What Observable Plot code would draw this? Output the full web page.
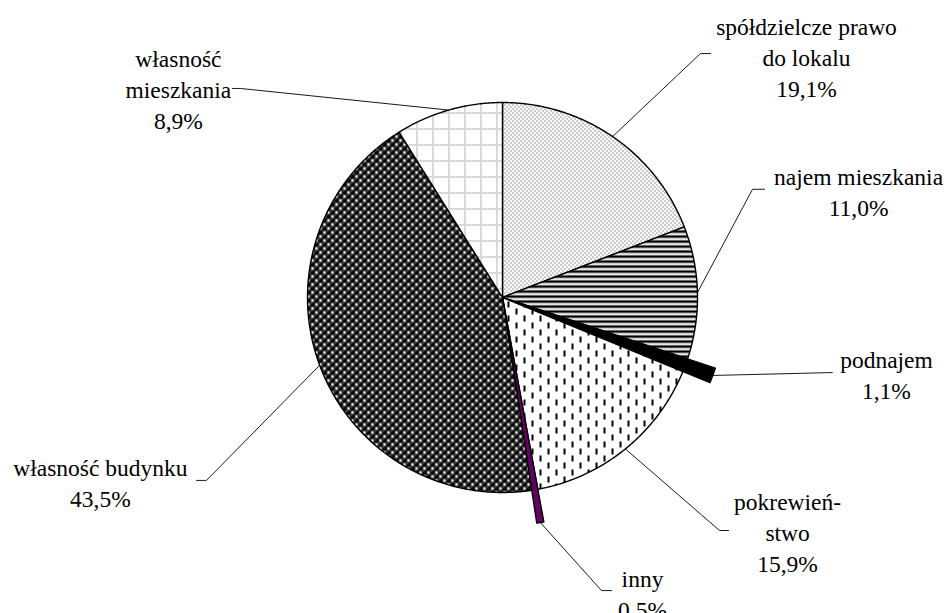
<!DOCTYPE html>
<html><head><meta charset="utf-8">
<script src="https://cdn.jsdelivr.net/npm/d3@7"></script>
<script src="https://cdn.jsdelivr.net/npm/@observablehq/plot@0.6"></script>
<style>
body{margin:0;background:#fff}
#chart svg{display:block}
#chart svg text{font-family:"Liberation Serif","Times New Roman",serif !important;}
</style>
</head><body><div id="chart"></div>
<script>
// ---- data ----
const categories = ["spółdzielcze prawo do lokalu", "najem mieszkania", "podnajem", "pokrewieństwo", "inny", "własność budynku", "własność mieszkania"];
const values = [19.1, 11.0, 1.1, 15.9, 0.5, 43.5, 8.9];
const labelNames = ["spółdzielcze prawo\ndo lokalu", "najem mieszkania", "podnajem", "pokrewień-\nstwo", "inny", "własność budynku", "własność\nmieszkania"];

// ---- styles / layout (in units of pie radius) ----
const fills = ["url(#pDots)", "url(#pHStripes)", "#000", "url(#pVDash)", "#660066", "url(#pBalls)", "url(#pGrid)"];
const explode = {"podnajem": 1.15, "inny": 1.17};
const labelLayout = [
  {lx: 1.559, ly: 1.236, ex: 1.015, ey: 1.251, kx: 1.067, ky: 1.251},
  {lx: 1.826, ly: 0.55, ex: 1.282, ey: 0.555, kx: 1.344, ky: 0.555},
  {lx: 1.969, ly: -0.390, ex: 1.692, ey: -0.385, kx: 1.692, ky: -0.385},
  {lx: 1.462, ly: -1.200, ex: 1.113, ey: -1.195, kx: 1.159, ky: -1.195},
  {lx: 0.718, ly: -1.513, ex: 0.508, ey: -1.503, kx: 0.559, ky: -1.503},
  {lx: -2.062, ly: -0.944, ex: -1.518, ey: -0.938, kx: -1.569, ky: -0.938},
  {lx: -1.662, ly: 1.072, ex: -1.344, ey: 1.072, kx: -1.385, ky: 1.072}
];

const total = d3.sum(values);
let acc = 0;
const slices = categories.map((c, i) => {
  const a0 = acc / total * 2 * Math.PI; acc += values[i];
  const a1 = acc / total * 2 * Math.PI;
  return {c, v: values[i], a0, a1, r: explode[c] ?? 1, i};
});
function slicePoints(s) {
  const pts = [{c: s.c, x: 0, y: 0}];
  const n = Math.max(2, Math.ceil((s.a1 - s.a0) / (Math.PI / 360)));
  for (let k = 0; k <= n; k++) {
    const a = s.a0 + (s.a1 - s.a0) * k / n;
    pts.push({c: s.c, x: s.r * Math.sin(a), y: s.r * Math.cos(a)});
  }
  pts.push({c: s.c, x: 0, y: 0});
  return pts;
}
const leaders = slices.flatMap((s, i) => {
  const m = (s.a0 + s.a1) / 2, L = labelLayout[i];
  return [
    {c: s.c, x: s.r * Math.sin(m), y: s.r * Math.cos(m)},
    {c: s.c, x: L.ex, y: L.ey},
    {c: s.c, x: L.kx, y: L.ky}
  ];
});
const labels = slices.map((s, i) => ({
  x: labelLayout[i].lx, y: labelLayout[i].ly,
  text: labelNames[i] + "\n" + s.v.toFixed(1).replace(".", ",") + "%"
}));

const chart = Plot.plot({
  width: 947, height: 613,
  marginLeft: 307, marginRight: 250, marginTop: 102, marginBottom: 121,
  x: {domain: [-1, 1], axis: null},
  y: {domain: [-1, 1], axis: null},
  style: {background: "#fff", fontFamily: "Liberation Serif, serif"},
  marks: [
    ...slices.map((s, i) => Plot.line(slicePoints(s), {x: "x", y: "y", fill: fills[i], stroke: "#000", strokeWidth: 1.4, strokeLinejoin: "round"})),
    Plot.line(leaders, {x: "x", y: "y", z: "c", stroke: "#000", strokeWidth: 0.9}),
    Plot.text(labels, {x: "x", y: "y", text: "text", fontSize: 23.5, lineHeight: 1.32, fontFamily: "Liberation Serif, serif", fill: "#000", textAnchor: "middle", lineAnchor: "middle"})
  ]
});

chart.insertAdjacentHTML("afterbegin", `<defs>
<pattern id="pDots" patternUnits="userSpaceOnUse" width="4" height="4">
 <rect width="4" height="4" fill="#fff"/>
 <rect x="0" y="0" width="1.1" height="1.1" fill="#444"/>
 <rect x="2" y="2" width="1.1" height="1.1" fill="#444"/>
</pattern>
<pattern id="pHStripes" patternUnits="userSpaceOnUse" width="4" height="5">
 <rect width="4" height="5" fill="#fff"/>
 <rect y="0" width="4" height="2.2" fill="#000"/>
 <rect y="2.2" width="4" height="0.7" fill="#888"/>
 <rect y="4.4" width="4" height="0.6" fill="#aaa"/>
</pattern>
<pattern id="pVDash" patternUnits="userSpaceOnUse" width="16" height="14">
 <rect width="16" height="14" fill="#fff"/>
 <rect x="3" y="0" width="2" height="6" fill="#000"/>
 <rect x="11" y="7" width="2" height="6" fill="#000"/>
</pattern>
<pattern id="pBalls" patternUnits="userSpaceOnUse" width="8" height="8">
 <rect width="8" height="8" fill="#fff"/>
 <circle cx="0" cy="0" r="2.8" fill="#000"/>
 <circle cx="8" cy="0" r="2.8" fill="#000"/>
 <circle cx="0" cy="8" r="2.8" fill="#000"/>
 <circle cx="8" cy="8" r="2.8" fill="#000"/>
 <circle cx="4" cy="4" r="2.8" fill="#000"/>
 <circle cx="3.1" cy="3" r="0.6" fill="#bbb"/>
 <circle cx="7.1" cy="7" r="0.6" fill="#bbb"/>
 <circle cx="-0.9" cy="-1" r="0.6" fill="#bbb"/>
</pattern>
<pattern id="pGrid" patternUnits="userSpaceOnUse" width="16" height="16">
 <rect width="16" height="16" fill="#fff"/>
 <line x1="0" y1="0.5" x2="16" y2="0.5" stroke="#666" stroke-width="1" stroke-dasharray="1 1"/>
 <line x1="0.5" y1="0" x2="0.5" y2="16" stroke="#666" stroke-width="1" stroke-dasharray="1 1"/>
</pattern>
</defs>`);
document.getElementById("chart").appendChild(chart);
</script>
</body></html>
